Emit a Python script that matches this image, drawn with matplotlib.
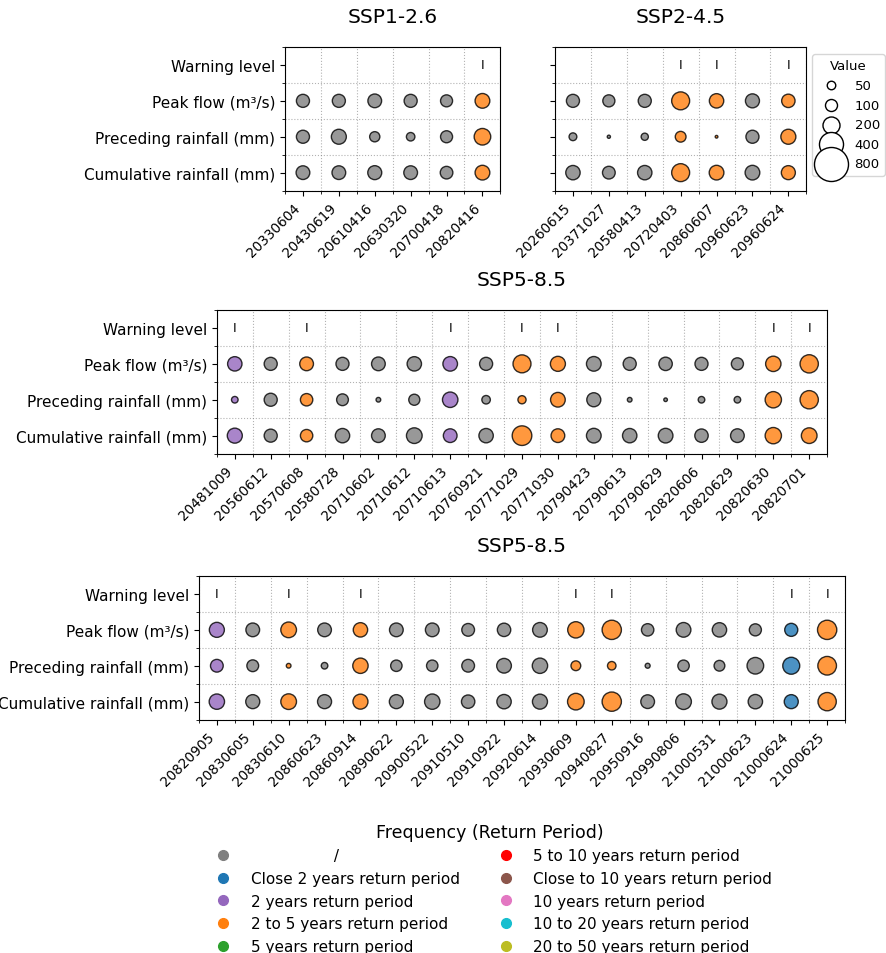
import matplotlib.pyplot as plt
from matplotlib.lines import Line2D
import numpy as np

# ==========================================
# 1. data
# ==========================================
row_labels = ["Cumulative rainfall (mm)", "Preceding rainfall (mm)",
              "Peak flow (m³/s)", "Warning level"]

freq_labels = [
    "                 /",
    "Close 2 years return period",
    "2 years return period",
    "2 to 5 years return period",
    "5 years return period",
    "5 to 10 years return period",
    "Close to 10 years return period",
    "10 years return period",
    "10 to 20 years return period",
    "20 to 50 years return period",
]
freq_colors = ["tab:gray", "tab:blue", "tab:purple", "tab:orange", "tab:green",
               "red", "tab:brown", "tab:pink", "tab:cyan", "tab:olive"]

value_levels = [50, 100, 200, 400, 800]

# SSP1-2.6
ssp126_dates = ["20330604", "20430619", "20610416", "20630320", "20700418", "20820416"]
ssp126_peak = [118, 118, 130, 118, 100, 150]
ssp126_prec = [118, 155, 72, 50, 100, 190]
ssp126_cum = [130, 130, 135, 130, 110, 150]
ssp126_freq = [0, 0, 0, 0, 0, 3]
ssp126_warn = ["", "", "", "", "", "I"]

# SSP2-4.5
ssp245_dates = ["20260615", "20371027", "20580413", "20720403", "20860607", "20960623", "20960624"]
ssp245_peak = [118, 101, 118, 223, 143, 136, 124]
ssp245_prec = [42, 7, 36, 80, 5, 118, 156]
ssp245_cum = [143, 112, 143, 223, 149, 149, 136]
ssp245_freq = [0, 0, 0, 3, 3, 0, 3]
ssp245_warn = ["", "", "", "I", "I", "", "I"]

# SSP5-8.5 (part 1)
ssp585a_dates = ["20481009", "20560612", "20570608", "20580728", "20710602", "20710612",
                 "20710613", "20760921", "20771029", "20771030", "20790423", "20790613",
                 "20790629", "20820606", "20820629", "20820630", "20820701"]
ssp585a_peak = [143, 118, 130, 118, 130, 143, 147, 118, 223, 156, 149, 118, 124, 118, 101, 163, 231]
ssp585a_prec = [30, 118, 106, 96, 15, 85, 165, 50, 46, 149, 136, 15, 9, 30, 30, 184, 231]
ssp585a_cum = [156, 118, 106, 143, 130, 170, 130, 143, 266, 130, 149, 143, 149, 124, 130, 184, 170]
ssp585a_freq = [2, 0, 3, 0, 0, 0, 2, 0, 3, 3, 0, 0, 0, 0, 0, 3, 3]
ssp585a_warn = ["I", "", "I", "", "", "", "I", "", "I", "I", "", "", "", "", "", "I", "I"]

# SSP5-8.5 (part 2)
ssp585b_dates = ["20820905", "20830605", "20830610", "20860623", "20860914", "20890622",
                 "20900522", "20910510", "20910922", "20920614", "20930609", "20940827",
                 "20950916", "20990806", "21000531", "21000623", "21000624", "21000625"]
ssp585b_peak = [156, 130, 170, 130, 143, 130, 130, 112, 124, 149, 184, 257, 106, 149, 143, 101, 118, 257]
ssp585b_prec = [112, 96, 15, 30, 163, 90, 90, 112, 149, 163, 66, 50, 17, 90, 80, 191, 199, 240]
ssp585b_cum = [163, 136, 170, 136, 156, 136, 163, 124, 143, 156, 191, 257, 130, 170, 156, 143, 136, 231]
ssp585b_freq = [2, 0, 3, 0, 3, 0, 0, 0, 0, 0, 3, 3, 0, 0, 0, 0, 1, 3]
ssp585b_warn = ["I", "", "I", "", "I", "", "", "", "", "", "I", "I", "", "", "", "", "I", "I"]

SIZE_K = 0.75   # value -> marker area

# ==========================================
# 2. layout (pixels of the 886x954 image)
# ==========================================
W, H = 886, 954
CELL = 35.9


def rect(left, top, ncols):
    return [left / W, 1 - (top + 4 * CELL) / H, ncols * CELL / W, 4 * CELL / H]


def draw_panel(ax, title, dates, cum, prec, peak, freq, warn, ylabels=True):
    n = len(dates)
    x = np.arange(n)
    cols = [freq_colors[f] for f in freq]
    for row, vals in enumerate([cum, prec, peak]):
        ax.scatter(x, np.full(n, row), s=np.array(vals) * SIZE_K, c=cols,
                   edgecolors="black", linewidths=1, alpha=0.8, zorder=3)
    for i, w in enumerate(warn):
        if w:
            ax.text(i, 3, w, ha="center", va="center", fontsize=9)

    ax.set_xlim(-0.5, n - 0.5)
    ax.set_ylim(-0.5, 3.5)
    ax.set_xticks(x)
    ax.set_xticklabels(dates, rotation=45, ha="right", fontsize=9.8)
    ax.set_xticks(np.arange(n + 1) - 0.5, minor=True)
    ax.set_yticks(range(4))
    ax.set_yticklabels(row_labels if ylabels else [], fontsize=11)
    ax.set_yticks(np.arange(5) - 0.5, minor=True)
    ax.grid(which="minor", linestyle=":", color="gray", alpha=0.6, linewidth=0.8)
    ax.set_title(title, fontsize=14.5, pad=18)


fig = plt.figure(figsize=(W / 100, H / 100), dpi=100)

ax1 = fig.add_axes(rect(285, 48, len(ssp126_dates)))
ax2 = fig.add_axes(rect(555, 48, len(ssp245_dates)))
ax3 = fig.add_axes(rect(522 - len(ssp585a_dates) * CELL / 2, 311, len(ssp585a_dates)))
ax4 = fig.add_axes(rect(522 - len(ssp585b_dates) * CELL / 2, 577, len(ssp585b_dates)))

draw_panel(ax1, "SSP1-2.6", ssp126_dates, ssp126_cum, ssp126_prec, ssp126_peak,
           ssp126_freq, ssp126_warn)
draw_panel(ax2, "SSP2-4.5", ssp245_dates, ssp245_cum, ssp245_prec, ssp245_peak,
           ssp245_freq, ssp245_warn, ylabels=False)
draw_panel(ax3, "SSP5-8.5", ssp585a_dates, ssp585a_cum, ssp585a_prec, ssp585a_peak,
           ssp585a_freq, ssp585a_warn)
draw_panel(ax4, "SSP5-8.5", ssp585b_dates, ssp585b_cum, ssp585b_prec, ssp585b_peak,
           ssp585b_freq, ssp585b_warn)

# ==========================================
# 3. legends
# ==========================================
size_handles = [ax2.scatter([], [], s=v * SIZE_K, facecolor="white",
                            edgecolor="black", linewidths=1) for v in value_levels]
ax2.legend(size_handles, [str(v) for v in value_levels], title="Value",
           loc="upper left", bbox_to_anchor=(1 + 6 / 251, 1 - 7 / 143),
           borderaxespad=0, fontsize=9.5, title_fontsize=9.5, labelspacing=0.5)

freq_handles = [Line2D([], [], marker="o", linestyle="", color=c, markersize=7)
                for c in freq_colors]
fig.legend(freq_handles, freq_labels, loc="upper center",
           bbox_to_anchor=(490 / W, 1 - 810 / H), ncol=2, frameon=False,
           title="Frequency (Return Period)", fontsize=11, title_fontsize=12.5,
           labelspacing=0.5)

fig.savefig("out.png", dpi=100)
